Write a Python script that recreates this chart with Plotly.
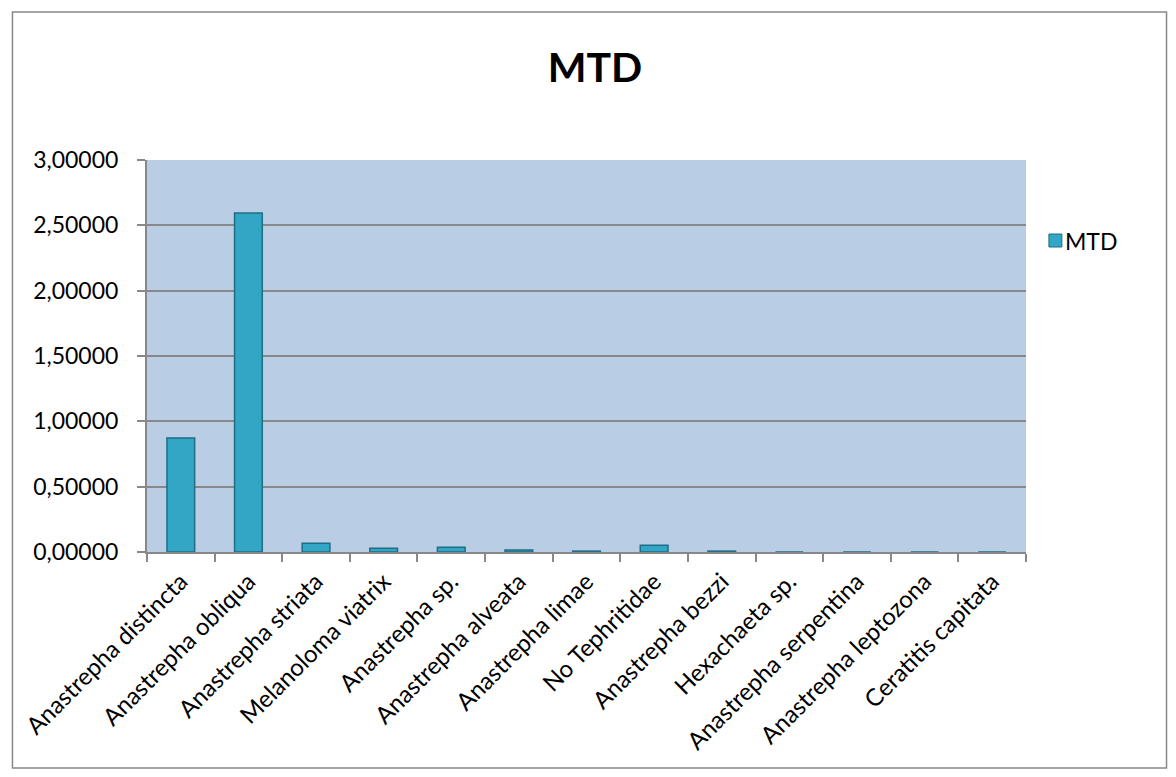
import plotly.graph_objects as go

categories = ["Anastrepha distincta", "Anastrepha obliqua", "Anastrepha striata",
              "Melanoloma viatrix", "Anastrepha sp.", "Anastrepha alveata",
              "Anastrepha limae", "No Tephritidae", "Anastrepha bezzi",
              "Hexachaeta sp.", "Anastrepha serpentina", "Anastrepha leptozona",
              "Ceratitis capitata"]
mtd = [0.872, 2.594, 0.067, 0.028, 0.036, 0.015, 0.007, 0.051, 0.007,
       0.0, 0.0, 0.0, 0.0]
y_ticks = [0, 0.5, 1.0, 1.5, 2.0, 2.5, 3.0]
series_name = "MTD"

# page has an 8px body margin; work in figure coordinates = screen - 8
OFF = 8
W, H = 1160, 761
L, R, T, B = 144 - OFF, 1026 - OFF, 160 - OFF, 552 - OFF
pw, ph = R - L, B - T

def px(x):
    return (x - OFF - L) / pw

def py(y):
    return (B - (y - OFF)) / ph

FONT = "Lato, Carlito, Liberation Sans, sans-serif"
BAR = "#33A5C5"
EDGE = "#1E6E85"

fig = go.Figure()
fig.add_trace(go.Bar(
    x=categories, y=mtd, name=series_name, showlegend=False,
    marker=dict(color=BAR, line=dict(color=EDGE, width=1.5)),
))

fig.update_layout(
    width=W, height=H,
    margin=dict(l=L, r=W - R, t=T, b=H - B),
    paper_bgcolor="white",
    plot_bgcolor="#B9CDE5",
    separators=",.",
    bargap=0.59,
    font=dict(family=FONT, size=24, color="black"),
    title=dict(text="<b>MTD</b>", x=(595 - OFF) / W, xanchor="center",
               y=1 - (68 - OFF) / H, yanchor="middle",
               font=dict(size=41, family=FONT)),
    xaxis=dict(
        tickangle=-45, showgrid=False, tickson="boundaries",
        ticks="outside", ticklen=8, tickcolor="#888", tickwidth=1.5,
        showline=True, linecolor="#888", linewidth=2,
        tickfont=dict(size=24), ticklabelstandoff=4,
    ),
    yaxis=dict(
        range=[0, 3.0], tickvals=y_ticks, tickformat=".5f",
        showgrid=True, gridcolor="#888", gridwidth=1.5,
        ticks="outside", ticklen=8, tickcolor="#888", tickwidth=1.5,
        showline=True, linecolor="#888", linewidth=2,
        zeroline=False, tickfont=dict(size=23), ticklabelstandoff=14,
    ),
    shapes=[
        dict(type="rect", xref="paper", yref="paper",
             x0=px(9), x1=px(1167), y0=py(768), y1=py(12),
             line=dict(color="#888", width=1.5), layer="below"),
        # legend swatch
        dict(type="rect", xref="paper", yref="paper",
             x0=px(1049), x1=px(1062), y0=py(247), y1=py(234),
             fillcolor=BAR, line=dict(color=EDGE, width=1)),
    ],
    annotations=[
        dict(text=series_name, xref="paper", yref="paper",
             x=px(1063), y=py(241), xanchor="left", yanchor="middle",
             showarrow=False, font=dict(size=23, family=FONT)),
    ],
)

fig.write_html("out.html")
